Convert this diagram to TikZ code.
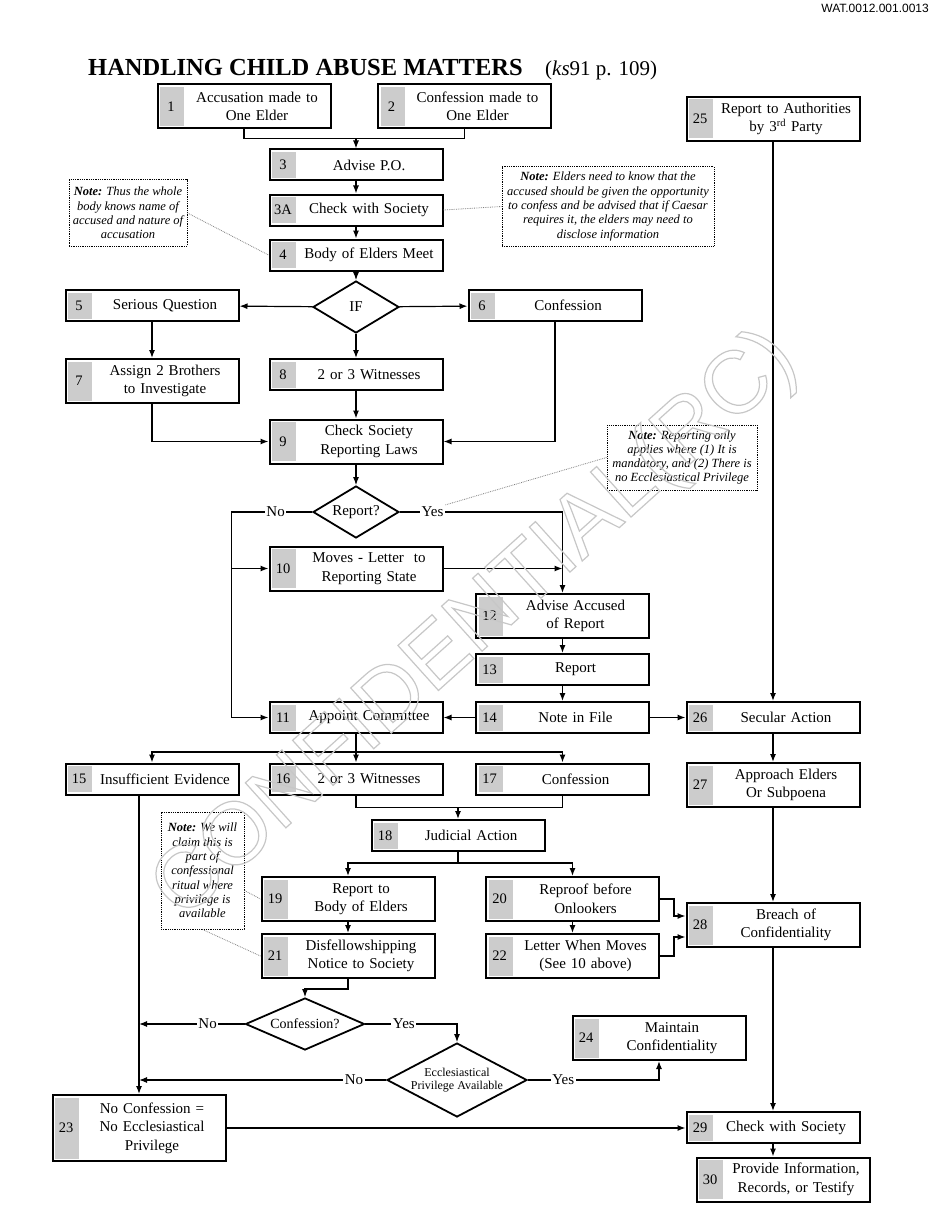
\documentclass[tikz,border=0pt]{standalone}
\usepackage{fontspec}
\setmainfont{Liberation Serif}
\newfontfamily\sansfont{Liberation Sans}
\usetikzlibrary{shapes.geometric, arrows.meta, positioning}
\definecolor{numgray}{gray}{0.8}
\tikzset{%
  box/.style={rectangle, draw, line width=2pt, fill=white, minimum width=173pt, minimum height=31pt,
    text width=167pt, inner xsep=3pt, inner ysep=2pt, align=center, font=\fontsize{15}{18.5}\selectfont,
    execute at begin node={\advance\leftskip by 26pt},
    path picture={\fill[numgray] ([shift={(2.5pt,-2.5pt)}]path picture bounding box.north west)
      rectangle ([shift={(26.5pt,2.5pt)}]path picture bounding box.south west);},
    label={[numtext]west:#1}},
  tallbox/.style={box=#1, minimum height=44pt},
  numtext/.style={anchor=center, xshift=14.5pt, inner sep=0pt, font=\fontsize{14.5}{18}\selectfont},
  decision/.style={draw, diamond, line width=1.8pt, fill=white, aspect=2, inner sep=0pt, font=\fontsize{15}{18}\selectfont},
  note/.style={draw, dash pattern=on 1pt off 0.8pt, line width=1pt, fill=white, align=center, inner sep=1pt,
    font=\itshape\fontsize{12.5}{14.3}\selectfont},
  noteline/.style={draw, gray, densely dotted, line width=0.8pt},
  lbl/.style={fill=white, inner sep=1.5pt, font=\fontsize{15}{18}\selectfont},
  plain/.style={draw, line width=1.2pt},
  line/.style={draw, line width=1.2pt, -{Latex[length=8pt, width=6pt]}}}

\begin{document}
\begin{tikzpicture}[x=1pt, y=-1pt]
  \useasboundingbox (0,0) rectangle (935,1225);
  % Heading
  \node (docid) [anchor=north east, inner sep=0pt, font=\sansfont\fontsize{12}{14}\selectfont] at (929,4) {WAT.0012.001.0013};
  \node (title) [anchor=base west, inner sep=0pt, font=\bfseries\fontsize{24.5}{28}\selectfont] at (88,76) {HANDLING CHILD ABUSE MATTERS};
  \node (source) [anchor=base west, inner sep=0pt, font=\fontsize{21}{24}\selectfont] at (545,76) {(\textit{ks}91 p. 109)};
  % Start: accusation or confession
  \node (b1) [tallbox=1] at (244,106.5) {Accusation made to\\One Elder};
  \node (b2) [tallbox=2] at (464.5,106.5) {Confession made to\\One Elder};
  \node (b25) [tallbox=25] at (773,119) {Report to Authorities\\by 3\textsuperscript{rd} Party};
  \node (b3) [box=3] at (356,165) {Advise P.O.};
  \node (b3A) [box=3A, below=12pt of b3] {Check with Society};
  \node (b4) [box=4, below=12pt of b3A] {Body of Elders Meet};
  \node (dIF) [decision, minimum width=86pt, minimum height=52pt] at (356,307) {IF};
  \node (b5) [box=5] at (152,305.5) {Serious Question};
  \node (b6) [box=6] at (555,305.5) {Confession};
  \node (b7) [tallbox=7] at (152,381) {Assign 2 Brothers\\to Investigate};
  \node (b8) [box=8] at (356,374.5) {2 or 3 Witnesses};
  \node (b9) [tallbox=9] at (356,441.5) {Check Society\\Reporting Laws};
  % Reporting
  \node (dRep) [decision, minimum width=86pt, minimum height=52pt] at (356,512) {Report?};
  \node (b10) [tallbox=10] at (356,568.5) {Moves - Letter\ \ to\\Reporting State};
  \node (b12) [tallbox=12] at (562.5,616) {Advise Accused\\of Report};
  \node (b13) [box=13, below=14pt of b12] {Report};
  \node (b14) [box=14, below=15pt of b13] {Note in File};
  \node (b11) [box=11] at (356,717.5) {Appoint Committee};
  \node (b26) [box=26] at (773,717.5) {Secular Action};
  % Committee
  \node (b15) [box=15] at (152,779) {Insufficient Evidence};
  \node (b16) [box=16] at (356,779) {2 or 3 Witnesses};
  \node (b17) [box=17] at (562.5,779) {Confession};
  \node (b27) [tallbox=27] at (773,785) {Approach Elders\\Or Subpoena};
  \node (b18) [box=18] at (458,835.5) {Judicial Action};
  \node (b19) [tallbox=19] at (348,899) {Report to\\Body of Elders};
  \node (b20) [tallbox=20] at (572.5,899) {Reproof before\\Onlookers};
  \node (b21) [tallbox=21, below=11pt of b19] {Disfellowshipping\\Notice to Society};
  \node (b22) [tallbox=22, below=11pt of b20] {Letter When Moves\\(See 10 above)};
  \node (b28) [tallbox=28] at (773,925) {Breach of\\Confidentiality};
  % Privilege
  \node (dConf) [decision, minimum width=119pt, minimum height=52pt, font=\fontsize{14}{16}\selectfont] at (305,1024) {Confession?};
  \node (dEcc) [decision, minimum width=140pt, minimum height=74pt, inner sep=-4pt, font=\fontsize{12}{13.5}\selectfont, align=center] at (457,1080) {Ecclesiastical\\Privilege Available};
  \node (b24) [tallbox=24] at (659,1038) {Maintain\\Confidentiality};
  \node (b23) [box=23, minimum height=66pt] at (139,1128) {No Confession =\\No Ecclesiastical\\Privilege};
  \node (b29) [box=29] at (773,1127.5) {Check with Society};
  \node (b30) [tallbox=30] at (783,1179.5) {Provide Information,\\Records, or Testify};
  % Notes
  \node (nL) [note, minimum width=118pt, minimum height=66pt] at (128,213) {\textbf{Note:} Thus the whole\\body knows name of\\accused and nature of\\accusation};
  \node (nR) [note, minimum width=212pt, minimum height=79pt] at (608,206.5) {\textbf{Note:} Elders need to know that the\\accused should be given the opportunity\\to confess and be advised that if Caesar\\requires it, the elders may need to\\disclose information};
  \node (nM) [note, minimum width=150pt, minimum height=65pt] at (682,457.5) {\textbf{Note:} Reporting only\\applies where (1) It is\\mandatory, and (2) There is\\no Ecclesiastical Privilege};
  \node (nB) [note, minimum width=83pt, minimum height=117pt] at (202.5,870.5) {\textbf{Note:} We will\\claim this is\\part of\\confessional\\ritual where\\privilege is\\available};
  % Arrows
  \draw[plain] (b1.south) -- ++(0,9) coordinate (j1) -| (b2.south);
  \draw[line] (j1 -| b3) -- (b3);
  \draw[line] (b3) -- (b3A);
  \draw[line] (b3A) -- (b4);
  \draw[line] (b4) -- (dIF);
  \draw[line] (dIF) -- (b5);
  \draw[line] (dIF) -- (b6);
  \draw[line] (dIF) -- (b8);
  \draw[line] (b5) -- (b7);
  \draw[line] (b7) |- (b9);
  \draw[line] (b6) |- (b9);
  \draw[line] (b8) -- (b9);
  \draw[line] (b9) -- (dRep);
  \draw[line] (dRep.west) -- node[lbl, pos=0.45] {No} ++(-81,0) coordinate (nocorner) |- (b11);
  \draw[line] (nocorner |- b10) -- (b10);
  \draw[line] (dRep.east) -- node[lbl, pos=0.2] (yes1) {Yes} (dRep.east -| b12) -- (b12);
  \draw[line] (b10) -- (b10 -| b12);
  \draw[line] (b12) -- (b13);
  \draw[line] (b13) -- (b14);
  \draw[line] (b14) -- (b11);
  \draw[line] (b14) -- (b26);
  \draw[line] (b25) -- (b26);
  \draw[line] (b26) -- (b27);
  \draw[plain] (b11.south) -- ++(0,18) coordinate (j11);
  \draw[line] (j11) -| (b15);
  \draw[line] (j11) -| (b17);
  \draw[line] (j11) -- (b16);
  \draw[plain] (b16.south) -- ++(0,12) coordinate (j16) -| (b17.south);
  \draw[line] (j16 -| b18) -- (b18);
  \draw[plain] (b18.south) -- ++(0,11) coordinate (j18);
  \draw[line] (j18) -| (b19);
  \draw[line] (j18) -| (b20);
  \draw[line] (b19) -- (b21);
  \draw[line] (b20) -- (b22);
  \draw[line] (b20.east) -- ++(14,0) |- ([yshift=9pt]b28.west);
  \draw[line] (b22.east) -- ++(14,0) |- ([yshift=-12pt]b28.west);
  \draw[line] (b27) -- (b28);
  \draw[line] (b28) -- (b29);
  \draw[line] (b29.south) -- (b29.south |- b30.north);
  \draw[line] (b21.south) -- ++(0,10) -| (dConf.north);
  \draw[line] (dConf.west) -- node[lbl, pos=0.35] {No} (dConf.west -| b23);
  \draw[line] (dConf.east) -- node[lbl, pos=0.42] {Yes} (dConf.east -| dEcc) -- (dEcc);
  \draw[line] (dEcc.west) -- node[lbl, pos=0.13] {No} (dEcc.west -| b23);
  \draw[line] (dEcc.east) -- node[lbl, pos=0.27] {Yes} (dEcc.east -| b24) -- (b24);
  \draw[line] (b15.south -| b23) -- (b23);
  \draw[line] (b23.east) -- (b23.east -| b29.west);
  % Note pointers
  \draw[noteline] (nL.east) -- (b4.west);
  \draw[noteline] (b3A.east) -- (nR.west);
  \draw[noteline] (nM.west) -- (yes1.north east);
  \draw[noteline] ([yshift=-20pt]nB.east) -- (b19.west);
  \draw[noteline] (nB.south) -- (b21.west);
  % Watermark
  \node (mark) [rotate=42, inner sep=0pt, text=gray!30, font=\sansfont\fontsize{88}{90}\selectfont] at (476,626)
    {\special{pdf:literal direct 1 Tr 1.2 w 0.78 G}CONFIDENTIAL(RC)\special{pdf:literal direct 0 Tr}};
\end{tikzpicture}
\end{document}
